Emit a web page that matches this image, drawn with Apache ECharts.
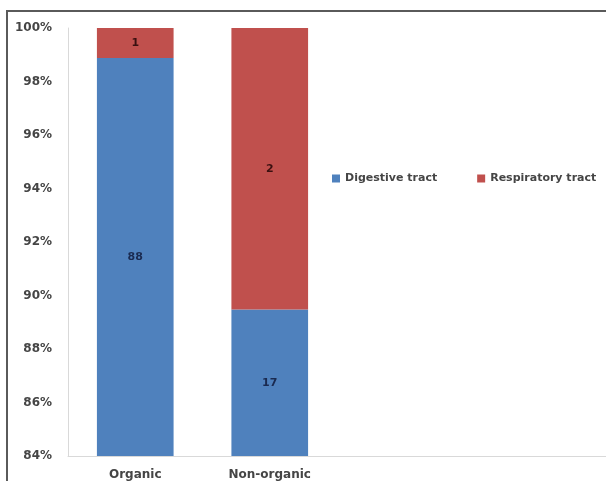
<!DOCTYPE html>
<html><head><meta charset="utf-8">
<script src="https://cdn.jsdelivr.net/npm/echarts@6/dist/echarts.min.js"></script>
<style>html,body{margin:0;padding:0;background:#fff}#c{width:606px;height:481px}</style>
</head><body><div id="c"></div>
<script>
const categories = ['Organic', 'Non-organic', '', ''];
const digestive = [88, 17];
const respiratory = [1, 2];
const yTicks = ['84%','86%','88%','90%','92%','94%','96%','98%','100%'];

const totals = digestive.map((d, i) => d + respiratory[i]);
const digPct = digestive.map((d, i) => d / totals[i] * 100);
const resPct = respiratory.map((r, i) => r / totals[i] * 100);

const chart = echarts.init(document.getElementById('c'), null, {renderer: 'canvas'});
const font = '"DejaVu Sans", sans-serif';
chart.setOption({
  animation: false,
  graphic: [{
    type: 'rect', shape: {x: 7, y: 11, width: 700, height: 520},
    style: {fill: 'none', stroke: '#5a5a5a', lineWidth: 2}, z: 100
  }],
  grid: {left: 68, top: 28, width: 544, height: 428, containLabel: false},
  legend: {
    left: 327, top: 168, itemWidth: 8, itemHeight: 8, itemGap: 40, icon: 'rect',
    textStyle: {fontFamily: font, fontSize: 11, fontWeight: 'bold', color: '#454545'},
    data: ['Digestive tract', 'Respiratory tract']
  },
  xAxis: {
    type: 'category', data: categories,
    axisLine: {lineStyle: {color: '#d9d9d9', width: 1}},
    axisTick: {show: false},
    axisLabel: {fontFamily: font, fontSize: 12, fontWeight: 'bold', color: '#454545', margin: 13}
  },
  yAxis: {
    type: 'value', min: 84, max: 100, interval: 2,
    axisLine: {show: true, lineStyle: {color: '#d9d9d9', width: 1}},
    axisTick: {show: false},
    splitLine: {show: false},
    axisLabel: {
      fontFamily: font, fontSize: 12, fontWeight: 'bold', color: '#454545', margin: 16,
      formatter: (v) => yTicks[Math.round((v - 84) / 2)]
    }
  },
  series: [
    {
      name: 'Digestive tract', type: 'bar', stack: 's', barWidth: '57%',
      data: digPct,
      itemStyle: {color: '#4f81bd'},
      label: {show: true, position: 'inside', fontFamily: font, fontSize: 11, fontWeight: 'bold', color: '#1a2a50',
        formatter: (p) => digestive[p.dataIndex]}
    },
    {
      name: 'Respiratory tract', type: 'bar', stack: 's', barWidth: '57%',
      data: resPct,
      itemStyle: {color: '#c0504d'},
      label: {show: true, position: 'inside', fontFamily: font, fontSize: 11, fontWeight: 'bold', color: '#3a1010',
        formatter: (p) => respiratory[p.dataIndex]}
    }
  ]
});
</script></body></html>
